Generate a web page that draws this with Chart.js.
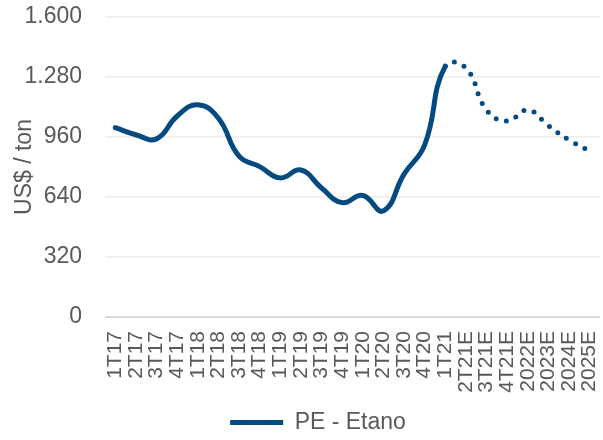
<!DOCTYPE html>
<html>
<head>
<meta charset="utf-8">
<script src="https://cdn.jsdelivr.net/npm/chart.js@4.4.1/dist/chart.umd.min.js"></script>
<style>
  html, body { margin: 0; padding: 0; background: #fff; }
  #wrap { width: 603px; height: 440px; position: relative; }
</style>
</head>
<body>
<div id="wrap"><canvas id="peChart"></canvas></div>
<script>
// quarters / years, last ones are estimates (E)
const categories = ['1T17', '2T17', '3T17', '4T17', '1T18', '2T18', '3T18', '4T18',
    '1T19', '2T19', '3T19', '4T19', '1T20', '2T20', '3T20', '4T20', '1T21',
    '2T21E', '3T21E', '4T21E', '2022E', '2023E', '2024E', '2025E'];
const peEtano = [1010, 972, 950, 1072, 1132, 1060, 858, 802, 742, 784, 688, 610,
    648, 566, 762, 918, 1338, 1328, 1104, 1045, 1104, 1020, 944, 886];
const lastActual = 16; // 1T21, after this the line is dotted
const yTicks = [0, 320, 640, 960, 1280, 1600];

const gray = '#595959';
const blue = '#034A80';
const font = 'Liberation Sans, Arial';

// legend in the original sits a bit right of the canvas centre
const shiftLegend = {
    id: 'shiftLegend',
    afterLayout(chart) {
        chart.legend.left += 18;
        chart.legend.right += 18;
    }
};

const ctx = document.getElementById('peChart').getContext('2d');

new Chart(ctx, {
    type: 'line',
    data: {
        labels: categories,
        datasets: [{
            label: 'PE - Etano',
            data: peEtano,
            borderColor: blue,
            backgroundColor: blue,
            borderWidth: 5,
            borderCapStyle: 'round',
            pointRadius: 0,
            pointHoverRadius: 0,
            tension: 0.45,
            segment: {
                borderDash: c => c.p0DataIndex >= lastActual ? [0, 10.5] : undefined
            }
        }]
    },
    options: {
        responsive: true,
        maintainAspectRatio: false,
        animation: false,
        layout: { padding: { top: 17, right: 3, left: 0, bottom: -4 } },
        plugins: {
            legend: {
                position: 'bottom',
                labels: {
                    usePointStyle: true,
                    pointStyle: 'line',
                    pointStyleWidth: 53,
                    boxHeight: 20,
                    color: gray,
                    padding: 2,
                    font: { family: font, size: 23 }
                }
            },
            tooltip: { enabled: false }
        },
        scales: {
            x: {
                offset: true,
                afterFit: axis => {
                    axis.height = 92;
                    axis.paddingLeft = 0;
                    axis.paddingRight = 0;
                },
                grid: { display: false, drawTicks: false },
                border: { display: false },
                ticks: {
                    autoSkip: false,
                    minRotation: 90,
                    maxRotation: 90,
                    padding: 14,
                    color: gray,
                    font: { family: font, size: 21 }
                }
            },
            y: {
                min: 0,
                max: 1600,
                afterBuildTicks: axis => { axis.ticks = yTicks.map(v => ({ value: v })); },
                afterFit: axis => {
                    axis.width = 105;
                    axis.paddingTop = 0;
                    axis.paddingBottom = 0;
                },
                grid: {
                    drawTicks: false,
                    lineWidth: 2,
                    color: c => c.tick.value === 0 ? '#d9d9d9' : '#efefef'
                },
                border: { display: false },
                title: {
                    display: true,
                    text: 'US$ / ton',
                    color: gray,
                    padding: { top: 11, bottom: 0 },
                    font: { family: font, size: 23 }
                },
                ticks: {
                    padding: 23,
                    color: gray,
                    font: { family: font, size: 23 },
                    callback: v => v.toLocaleString('pt-BR')
                }
            }
        }
    },
    plugins: [shiftLegend]
});
</script>
</body>
</html>
